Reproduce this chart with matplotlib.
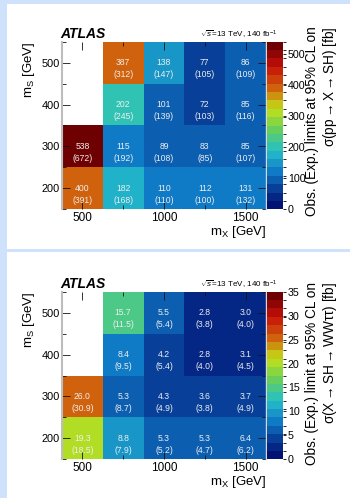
import numpy as np
import matplotlib
matplotlib.use("Agg")
import matplotlib.pyplot as plt
from matplotlib.colors import LinearSegmentedColormap, ListedColormap, BoundaryNorm
from matplotlib.patches import Rectangle
from matplotlib.ticker import MultipleLocator

plt.rcParams['font.family'] = ['Liberation Sans', 'DejaVu Sans']
plt.rcParams['mathtext.fontset'] = 'custom'
plt.rcParams['mathtext.rm'] = 'Liberation Sans'
plt.rcParams['mathtext.it'] = 'Liberation Sans:italic'
plt.rcParams['mathtext.bf'] = 'Liberation Sans:bold'

# ---------------- data ----------------
mx = [500, 750, 1000, 1250, 1500]          # GeV (columns)
ms = [200, 300, 400, 500]                  # GeV (rows, bottom -> top)

# Top panel: sigma(pp -> X -> SH) [fb]
obs_sh = [[400, 182, 110, 112, 131],
          [538, 115, 89, 83, 85],
          [np.nan, 202, 101, 72, 85],
          [np.nan, 387, 138, 77, 86]]
exp_sh = [[391, 168, 110, 100, 132],
          [672, 192, 108, 85, 107],
          [np.nan, 245, 139, 103, 116],
          [np.nan, 312, 147, 105, 109]]

# Bottom panel: sigma(X -> SH -> WW tautau) [fb]
obs_ww = [[19.3, 8.8, 5.3, 5.3, 6.4],
          [26.0, 5.3, 4.3, 3.6, 3.7],
          [np.nan, 8.4, 4.2, 2.8, 3.1],
          [np.nan, 15.7, 5.5, 2.8, 3.0]]
exp_ww = [[18.5, 7.9, 5.2, 4.7, 6.2],
          [30.9, 8.7, 4.9, 3.8, 4.9],
          [np.nan, 9.5, 5.4, 4.0, 4.5],
          [np.nan, 11.5, 5.4, 3.8, 4.0]]

cb_ticks_sh = [0, 100, 200, 300, 400, 500]
cb_ticks_ww = [0, 5, 10, 15, 20, 25, 30, 35]
x_ticks = [500, 1000, 1500]
y_ticks = [200, 300, 400, 500]

# ---------------- style ----------------
W, H = 350, 498
fig = plt.figure(figsize=(W / 100, H / 100), dpi=100)
fig.patch.set_facecolor('#cee3fb')

def fx(px):
    return px / W

def fy(py):
    return 1 - py / H

# white panels
fig.patches.append(Rectangle((fx(7), fy(249)), fx(350) - fx(7), fy(4) - fy(249),
                             transform=fig.transFigure, facecolor='white',
                             edgecolor='none', zorder=-10))
fig.patches.append(Rectangle((fx(7), fy(498)), fx(350) - fx(7), fy(252) - fy(498),
                             transform=fig.transFigure, facecolor='white',
                             edgecolor='none', zorder=-10))

# ROOT kRainBow palette
r = [0, 5, 15, 35, 102, 196, 208, 199, 110]
g = [0, 48, 124, 192, 206, 226, 97, 16, 0]
b = [99, 142, 198, 201, 90, 22, 13, 8, 2]
stops = np.linspace(0, 1, 9)
base = LinearSegmentedColormap.from_list(
    'rainbow', [(s, (ri / 255, gi / 255, bi / 255)) for s, ri, gi, bi in zip(stops, r, g, b)])
NB = 20
band_cmap = ListedColormap([base((i + 0.99) / NB) for i in range(NB)])

xedges = np.array([375, 625, 875, 1125, 1375, 1625])
yedges = np.array([150, 250, 350, 450, 550])


def panel(dy, obs, exp, vmax, fmt, cb_ticks, line1, line2, lab_top):
    top, bot = 41.7 + dy, 209.3 + dy
    ax = fig.add_axes([fx(62), fy(bot), fx(266) - fx(62), fy(top) - fy(bot)])
    cax = fig.add_axes([fx(267), fy(bot), fx(283.3) - fx(267), fy(top) - fy(bot)])
    levels = np.linspace(0, vmax, NB + 1)
    norm = BoundaryNorm(levels, NB)
    data = np.ma.masked_invalid(np.array(obs, dtype=float))
    mesh = ax.pcolormesh(xedges, yedges, data, cmap=band_cmap, norm=norm)
    ax.set_facecolor('white')
    ax.set_xlim(375, 1625)
    ax.set_ylim(150, 550)
    for i, yv in enumerate(ms):
        for j, xv in enumerate(mx):
            o = obs[i][j]
            e = exp[i][j]
            if np.isnan(o):
                continue
            ax.text(xv, yv, fmt.format(o), ha='center', va='center',
                    color='#eeeeee', fontsize=6.2)
            ax.text(xv, yv - 28, '(' + fmt.format(e) + ')', ha='center', va='center',
                    color='#eeeeee', fontsize=6.2)
    ax.set_xticks(x_ticks)
    ax.set_yticks(y_ticks)
    ax.xaxis.set_minor_locator(MultipleLocator(250))
    ax.yaxis.set_minor_locator(MultipleLocator(50))
    ax.tick_params(which='both', direction='in', top=True, right=True,
                   colors='#111111', width=0.6, labelcolor='black')
    ax.tick_params(which='major', length=5.5)
    ax.tick_params(which='minor', length=3)
    ax.tick_params(axis='x', pad=2, labelsize=8.5)
    ax.tick_params(axis='y', pad=1.5, labelsize=7.9)
    for s in ['top', 'bottom']:
        ax.spines[s].set_visible(False)
    ax.spines['left'].set_color('#bdbdbd')
    ax.spines['left'].set_linewidth(1.5)
    ax.spines['right'].set_color('#d8d8d8')
    ax.spines['right'].set_linewidth(1.0)

    cb = fig.colorbar(mesh, cax=cax, ticks=cb_ticks)
    cb.outline.set_visible(False)
    cax.set_ylim(0, vmax)
    cax.tick_params(direction='out', length=2.5, width=0.6, pad=0.8, labelsize=7.7)

    fig.text(fx(60), fy(38 + dy), 'ATLAS', fontsize=10, weight='bold', style='italic',
             va='baseline', ha='left')
    fig.text(fx(277), fy(38 + dy), r'$\sqrt{s}$=13 TeV, 140 fb$^{-1}$', fontsize=5.8,
             va='baseline', ha='right')
    fig.text(fx(29), fy(42 + dy), r'm$_{\mathrm{S}}$ [GeV]', rotation=90, fontsize=9.5,
             ha='center', va='top')
    fig.text(fx(266), fy(234.5 + dy), r'm$_{\mathrm{X}}$ [GeV]', fontsize=9.5,
             ha='right', va='baseline')
    fig.text(fx(312), fy(lab_top), line1, rotation=90, fontsize=9.8, ha='center', va='top')
    fig.text(fx(330), fy(lab_top), line2, rotation=90, fontsize=9.8, ha='center', va='top')


panel(0, obs_sh, exp_sh, 538, '{:.0f}', cb_ticks_sh,
      'Obs. (Exp.) limits at 95% CL on',
      r'σ(pp$\rightarrow$X$\rightarrow$SH) [fb]', 26.7)
panel(250, obs_ww, exp_ww, 35.0, '{:.1f}', cb_ticks_ww,
      'Obs. (Exp.) limit at 95% CL on',
      r'σ(X$\rightarrow$SH$\rightarrow$WWττ) [fb]', 282)

fig.savefig('out.png', dpi=100)
